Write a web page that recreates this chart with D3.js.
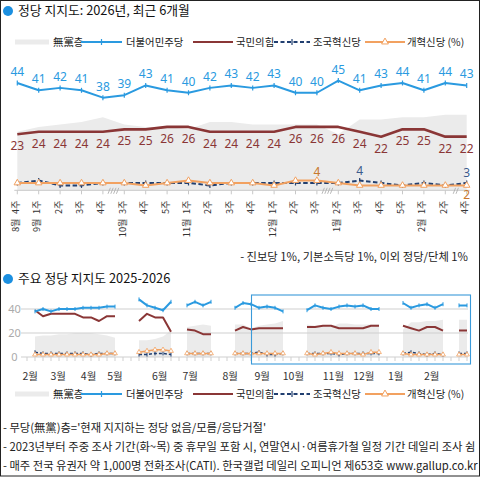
<!DOCTYPE html>
<html><head><meta charset="utf-8">
<script src="https://cdn.jsdelivr.net/npm/d3@7"></script>
<style>
body{margin:0;background:#fff}
svg{display:block;font-family:"Noto Sans CJK KR","Noto Sans",sans-serif}
</style></head><body>
<svg id="chart" width="481" height="477"></svg>
<script>
// ===== recent 6 months (weekly) =====
const weekLabels  = ['4주','1주','2주','3주','4주','3주','4주','5주','1주','2주','3주','4주','1주','2주','3주','2주','3주','4주','5주','1주','2주','4주'];
const monthLabels = ['8월','9월','','','','10월','','','11월','','','','12월','','','1월','','','','2월','',''];
const noParty = [24,26,27,28,30,27,26,26,25,28,28,27,27,27,27,23,29,29,30,30,31,31];
const minjoo  = [44,41,42,41,38,39,43,41,40,42,43,42,43,40,40,45,41,43,44,41,44,43];
const ppp     = [23,24,24,24,24,25,25,26,26,24,24,24,24,26,26,26,24,22,25,25,22,22];
const rebuild = [3,4,2,2,3,3,3,3,3,2,3,3,3,3,3,3,4,3,2,3,2,3];
const reform  = [3,3,3,3,3,3,2,3,4,3,3,3,2,4,4,3,2,2,2,2,2,2];
const rebuildLabelAt = [16,21];
const reformLabelAt  = [14,21];
const topBreaks = [{at:4.5,n:4},{at:14.5,n:4},{at:20.5,n:2}];

// ===== 2025-2026 weekly history (null = no survey) =====
const n = null;
const histNoParty = [17,18,18,19,19,20,20,20,19,18,16, n,n, 14,14,15,17,22, n, 25,26,27,26, n,n, 27,27,24,26,27,28,30, n,n, 27,26,26,25,28,28,27,27,27,27, n,n, 23,29,29,30,30,31, n, 31,31];
const histMinjoo  = [38,40,38,40,40,40,41,41,41,42,42, n,n, 48,43,41,39,46, n, 43,46,43,46, n,n, 41,45,44,41,42,41,38, n,n, 39,43,41,40,42,43,42,43,40,40, n,n, 45,41,43,44,41,44, n, 43,43];
const histPpp     = [39,34,36,36,36,36,33,33,30,34,34, n,n, 30,36,33,33,21, n, 23,22,19,19, n,n, 22,25,23,24,24,24,24, n,n, 25,25,26,26,24,24,24,24,26,26, n,n, 26,24,22,25,25,22, n, 22,22];
const histRebuild = [4,3,3,3,3,3,3,2,3,3,3, n,n, 2,2,3,3,2, n, 3,3,3,3, n,n, 3,3,3,4,2,2,3, n,n, 3,3,3,3,2,3,3,3,3,3, n,n, 3,4,3,2,3,2, n, 3,3];
const histReform  = [2,2,2,2,2,2,2,2,2,3,3, n,n, 4,5,6,6,5, n, 3,3,3,3, n,n, 3,3,3,3,3,3,3, n,n, 3,2,3,4,3,3,3,2,4,4, n,n, 3,2,2,2,2,2, n, 2,2];
const histMonths   = ['2월','3월','4월','5월','6월','7월','8월','9월','10월','11월','12월','1월','2월'];
const histMonthAt  = [-0.6,2.9,6.7,10,15.6,19.4,24.4,28.4,32.3,37.3,41.1,45.1,49.6];
const histYTicks   = [0,20,40];
const highlightFrom = 27;   // recent 6 months box, in history slots

const seriesNames = ['無黨층','더불어민주당','국민의힘','조국혁신당','개혁신당 (%)'];
const C = {noParty:'#ebebeb', minjoo:'#2a9ae0', ppp:'#8a3636', rebuild:'#213f70', reform:'#f2a160',
           reformText:'#c8782e', rebuildText:'#3b5b8d', grid:'#cfcfcf'};

const svg = d3.select('#chart');

// ---------- titles ----------
function title(y, txt){
  svg.append('circle').attr('cx',8).attr('cy',y-4).attr('r',5).attr('fill','#1b8fe0');
  svg.append('text').attr('x',18).attr('y',y).attr('font-size',12.8).attr('fill','#111').text(txt);
}
title(15, '정당 지지도: 2026년, 최근 6개월');
title(283, '주요 정당 지지도 2025-2026');

// ---------- legend ----------
function legend(cy){
  const g = svg.append('g').attr('font-size',10.4).attr('fill','#222');
  const items = [
    {k:'noParty', x0:15, x1:49, tx:53},
    {k:'minjoo',  x0:81, x1:122, tx:126},
    {k:'ppp',     x0:193, x1:233, tx:236},
    {k:'rebuild', x0:274, x1:310, tx:313},
    {k:'reform',  x0:365, x1:405, tx:407}
  ];
  items.forEach((it,i)=>{
    if(it.k==='noParty'){
      g.append('rect').attr('x',it.x0).attr('y',cy-2.5).attr('width',it.x1-it.x0).attr('height',5).attr('fill',C.noParty);
    } else {
      g.append('line').attr('x1',it.x0).attr('x2',it.x1).attr('y1',cy).attr('y2',cy)
        .attr('stroke',C[it.k]).attr('stroke-width',2.2)
        .attr('stroke-dasharray', it.k==='rebuild' ? '4,2.5' : null);
      const mx = (it.x0+it.x1)/2;
      if(it.k==='minjoo' || it.k==='rebuild'){
        g.append('line').attr('x1',mx).attr('x2',mx).attr('y1',cy-3).attr('y2',cy+3).attr('stroke',C[it.k]).attr('stroke-width',1.2);
      }
      if(it.k==='reform'){
        g.append('path').attr('d',d3.symbol(d3.symbolTriangle,20)()).attr('transform',`translate(${mx},${cy})`)
          .attr('fill','#fff').attr('stroke',C.reform).attr('stroke-width',1);
      }
    }
    g.append('text').attr('x',it.tx).attr('y',cy+3.8).text(seriesNames[i]);
  });
}
legend(42);
legend(394);

// ---------- top chart ----------
const idx = d3.range(weekLabels.length);
const xT = d3.scaleLinear().domain([0, weekLabels.length-1]).range([17.3, 466.7]);
const yT = d3.scaleLinear().domain([0, 44]).range([190.3, 83]);
const gT = svg.append('g');

gT.append('path').datum(idx).attr('fill',C.noParty)
  .attr('d', d3.area().x(i=>xT(i)).y0(yT(0)).y1(i=>yT(noParty[i])));

// axis
gT.append('line').attr('x1',xT(0)-3).attr('x2',xT(idx.length-1)+3).attr('y1',yT(0)).attr('y2',yT(0)).attr('stroke','#c8c8c8');
gT.selectAll('line.tk').data(idx).join('line').attr('class','tk')
  .attr('x1',i=>xT(i)).attr('x2',i=>xT(i)).attr('y1',yT(0)).attr('y2',yT(0)+4).attr('stroke','#c8c8c8');
topBreaks.forEach(b=>{
  const cx = xT(b.at);
  d3.range(b.n).forEach(k=>{
    const sx = cx - b.n*1.4 + k*2.8;
    gT.append('line').attr('x1',sx).attr('y1',yT(0)+3.5).attr('x2',sx+2.4).attr('y2',yT(0)-2.5)
      .attr('stroke','#b0b0b0').attr('stroke-width',0.9);
  });
});
gT.selectAll('text.wk').data(idx).join('text').attr('class','wk')
  .attr('transform',i=>`translate(${xT(i)+1.5},200.5) rotate(-90)`)
  .attr('text-anchor','end').attr('font-size',9.2).attr('fill','#333').text(i=>weekLabels[i]);
gT.selectAll('text.mo').data(idx.filter(i=>monthLabels[i])).join('text').attr('class','mo')
  .attr('transform',i=>`translate(${xT(i)+1.5},218.5) rotate(-90)`)
  .attr('text-anchor','end').attr('font-size',9.2).attr('fill','#333').text(i=>monthLabels[i]);

function topLine(vals, color, width, dash){
  gT.append('path').datum(idx).attr('fill','none').attr('stroke',color).attr('stroke-width',width)
    .attr('stroke-linejoin','round').attr('stroke-dasharray',dash||null)
    .attr('d', d3.line().x(i=>xT(i)).y(i=>yT(vals[i])));
}
topLine(ppp, C.ppp, 2.6);
topLine(minjoo, C.minjoo, 2);
topLine(rebuild, C.rebuild, 2, '4.5,2.5');
topLine(reform, C.reform, 2);

// markers
[[minjoo,C.minjoo],[rebuild,C.rebuild]].forEach(([vals,col])=>{
  gT.append('g').selectAll('line').data(idx).join('line')
    .attr('x1',i=>xT(i)).attr('x2',i=>xT(i)).attr('y1',i=>yT(vals[i])-2.5).attr('y2',i=>yT(vals[i])+2.5)
    .attr('stroke',col).attr('stroke-width',1.2);
});
gT.append('g').selectAll('path').data(idx).join('path')
  .attr('d',d3.symbol(d3.symbolTriangle,18)())
  .attr('transform',i=>`translate(${xT(i)},${yT(reform[i])})`)
  .attr('fill','#fff').attr('stroke',C.reform).attr('stroke-width',1);

// value labels
const lab = gT.append('g').attr('font-family','"Noto Sans",sans-serif').attr('font-size',12).attr('text-anchor','middle');
lab.selectAll('text.mj').data(idx).join('text').attr('class','mj')
  .attr('x',i=>xT(i)).attr('y',i=>yT(minjoo[i])-7).attr('fill',C.minjoo).text(i=>minjoo[i]);
lab.selectAll('text.pp').data(idx).join('text').attr('class','pp')
  .attr('x',i=>xT(i)).attr('y',i=>yT(ppp[i])+16).attr('fill',C.ppp).text(i=>ppp[i]);
lab.selectAll('text.rb').data(rebuildLabelAt).join('text').attr('class','rb')
  .attr('x',i=>xT(i)).attr('y',i=>yT(rebuild[i])-6).attr('fill',C.rebuildText).text(i=>rebuild[i]);
lab.selectAll('text.rf').data(reformLabelAt).join('text').attr('class','rf')
  .attr('x',i=>xT(i)).attr('y',i=>yT(reform[i])+ (i===idx.length-1 ? 14 : -5)).attr('fill',C.reformText).text(i=>reform[i]);

svg.append('text').attr('x',468).attr('y',261).attr('text-anchor','end').attr('font-size',11.3).attr('fill','#222')
  .text('- 진보당 1%, 기본소득당 1%, 이외 정당/단체 1%');

// ---------- bottom chart ----------
const hIdx = d3.range(histMinjoo.length);
const xB = d3.scaleLinear().domain([0, hIdx.length-1]).range([35, 467]);
const yB = d3.scaleLinear().domain([0, 40]).range([357, 309]);
const gB = svg.append('g');

gB.append('path').datum(hIdx).attr('fill',C.noParty)
  .attr('d', d3.area().defined(i=>histNoParty[i]!=null).x(i=>xB(i)).y0(yB(0)).y1(i=>yB(histNoParty[i])));

gB.selectAll('line.gr').data(histYTicks).join('line').attr('class','gr')
  .attr('x1',21).attr('x2',468).attr('y1',d=>yB(d)).attr('y2',d=>yB(d)).attr('stroke',C.grid);
gB.selectAll('text.yl').data(histYTicks).join('text').attr('class','yl')
  .attr('x',14.5).attr('y',d=>yB(d)+4).attr('text-anchor','middle').attr('font-family','"Noto Sans",sans-serif')
  .attr('font-size',11).attr('fill','#aaa').text(d=>d);
gB.selectAll('line.tk').data(d3.range(-1, hIdx.length+0)).join('line').attr('class','tk')
  .attr('x1',i=>xB(i)).attr('x2',i=>xB(i)).attr('y1',yB(0)).attr('y2',yB(0)+4).attr('stroke',C.grid);
gB.selectAll('text.mo').data(histMonthAt).join('text').attr('class','mo')
  .attr('x',d=>xB(d)).attr('y',380).attr('text-anchor','middle').attr('font-size',10.5).attr('fill','#333')
  .text((d,i)=>histMonths[i]);

function histLine(vals, color, width, dash){
  gB.append('path').datum(hIdx).attr('fill','none').attr('stroke',color).attr('stroke-width',width)
    .attr('stroke-linejoin','round').attr('stroke-dasharray',dash||null)
    .attr('d', d3.line().defined(i=>vals[i]!=null).x(i=>xB(i)).y(i=>yB(vals[i])));
}
histLine(histPpp, C.ppp, 2);
histLine(histMinjoo, C.minjoo, 2);
histLine(histRebuild, C.rebuild, 1.5, '3,2');
histLine(histReform, C.reform, 1.5);
const hDef = hIdx.filter(i=>histReform[i]!=null);
[[histMinjoo,C.minjoo],[histRebuild,C.rebuild]].forEach(([vals,col])=>{
  gB.append('g').selectAll('line').data(hDef).join('line')
    .attr('x1',i=>xB(i)).attr('x2',i=>xB(i)).attr('y1',i=>yB(vals[i])-2).attr('y2',i=>yB(vals[i])+2)
    .attr('stroke',col).attr('stroke-width',1);
});
gB.append('g').selectAll('path').data(hDef).join('path')
  .attr('d',d3.symbol(d3.symbolTriangle,10)())
  .attr('transform',i=>`translate(${xB(i)},${yB(histReform[i])})`)
  .attr('fill','#fff').attr('stroke',C.reform).attr('stroke-width',0.8);

// recent-period highlight box
gB.append('rect').attr('x',xB(highlightFrom)+0.5).attr('y',295).attr('width',470-xB(highlightFrom)).attr('height',69)
  .attr('fill','none').attr('stroke','#3a9ad9').attr('stroke-width',1.1);

// ---------- footnotes ----------
const notes = [
  "- 무당(無黨)층='현재 지지하는 정당 없음/모름/응답거절'",
  '- 2023년부터 주중 조사 기간(화~목) 중 휴무일 포함 시, 연말연시·여름휴가철 일정 기간 데일리 조사 쉼',
  '- 매주 전국 유권자 약 1,000명 전화조사(CATI). 한국갤럽 데일리 오피니언 제653호 www.gallup.co.kr'
];
svg.append('g').attr('font-size',11.3).attr('fill','#222').selectAll('text').data(notes).join('text')
  .attr('x',3).attr('y',(d,i)=>432+i*19).text(d=>d);

// frame
svg.append('rect').attr('x',0.5).attr('y',0.5).attr('width',479).attr('height',475.5)
  .attr('fill','none').attr('stroke','#222').attr('stroke-width',1);
</script>
</body></html>
